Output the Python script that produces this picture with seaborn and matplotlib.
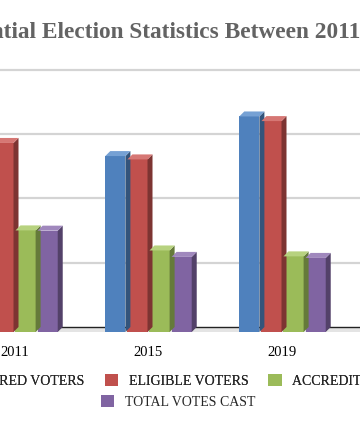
import pandas as pd
import seaborn as sns
import numpy as np
import matplotlib.pyplot as plt
import matplotlib.colors as mcolors
from matplotlib.patches import Polygon, Patch

#values, millions of voters
years=["2011","2015","2019"]
categories=["REGISTERED VOTERS","ELIGIBLE VOTERS","ACCREDITED VOTERS","TOTAL VOTES CAST"]
registered=[73.5,68.4,83.8]
eligible=[73.5,67.1,82.0]
accredited=[39.5,31.7,29.4]
votes_cast=[39.4,29.2,28.8]
colors=["#4F81BD","#C0504D","#9BBB59","#8064A2"]
title="Presidential Election Statistics Between 2011 and 2019"

df=pd.DataFrame({"year":years,categories[0]:registered,categories[1]:eligible,
	categories[2]:accredited,categories[3]:votes_cast})
df_long=df.melt(id_vars="year",var_name="category",value_name="value")

sns.set_style("white")
plt.rcParams['font.family']=['Liberation Serif','DejaVu Serif']

W,H=360,433
fig=plt.figure(figsize=(W/100,H/100),dpi=100)

#layout in pixels (the reference is a crop of a wider chart)
group_px=134.0      #px between year groups
x0_px=14.5          #px centre of first group
px_per_m=64.3/25    #px per million
left_px,right_px=-60,366
floor_px,top_px=332,55
ax=fig.add_axes([left_px/W,(H-floor_px)/H,(right_px-left_px)/W,(floor_px-top_px)/H])

sns.barplot(data=df_long,x="year",y="value",hue="category",hue_order=categories,
	palette=colors,saturation=1,width=0.66,gap=0.09,errorbar=None,legend=False,ax=ax,zorder=3)
bars=list(ax.patches)

ax.set_xlim((left_px-x0_px)/group_px,(right_px-x0_px)/group_px)
ax.set_ylim(0,(floor_px-top_px)/px_per_m)

#depth of the 3d effect
dx=5/group_px
dy=5/px_per_m

#back wall gridlines and floor
for v in [25,50,75,100]:
	ax.axhline(v+dy,color="#d4d4d4",lw=1.6,zorder=1)
ax.axhspan(0,dy,color="#e4e4e4",zorder=1,lw=0)
ax.axhline(dy,color="#222222",lw=1,zorder=2)

for b in bars:
	x=b.get_x(); w=b.get_width(); h=b.get_height()
	c=np.array(mcolors.to_rgb(b.get_facecolor()))
	side=Polygon([(x+w,0),(x+w+dx,dy),(x+w+dx,h+dy),(x+w,h)],closed=True,
		facecolor=c*0.65,edgecolor="none",zorder=3)
	top=Polygon([(x,h),(x+dx,h+dy),(x+w+dx,h+dy),(x+w,h)],closed=True,
		facecolor=np.clip(c*0.85+0.2,0,1),edgecolor="none",zorder=3)
	ax.add_patch(side)
	ax.add_patch(top)
	b.set_edgecolor("none")

ax.set_xlabel("")
ax.set_ylabel("")
ax.set_yticks([])
ax.tick_params(axis="x",length=0,pad=10,labelsize=10.5,labelcolor="black")
for s in ax.spines.values():
	s.set_visible(False)

#title, cropped on both sides like the reference
fig.text(-83/W,1-33/H,title,ha="left",va="center",fontsize=16.8,fontweight="bold",color="#636363")

handles=[Patch(facecolor=c,edgecolor="none") for c in colors]
leg_kw=dict(frameon=False,fontsize=10,handlelength=0.95,handleheight=0.95,
	handletextpad=0.75,columnspacing=1.45,loc="center")
leg1=fig.legend(handles[:3],categories[:3],ncol=3,bbox_to_anchor=(178/W,1-381/H),**leg_kw)
fig.add_artist(leg1)
fig.legend(handles[3:],categories[3:],ncol=1,bbox_to_anchor=(178/W,1-402/H),**leg_kw)

plt.savefig("out.png",dpi=100)
